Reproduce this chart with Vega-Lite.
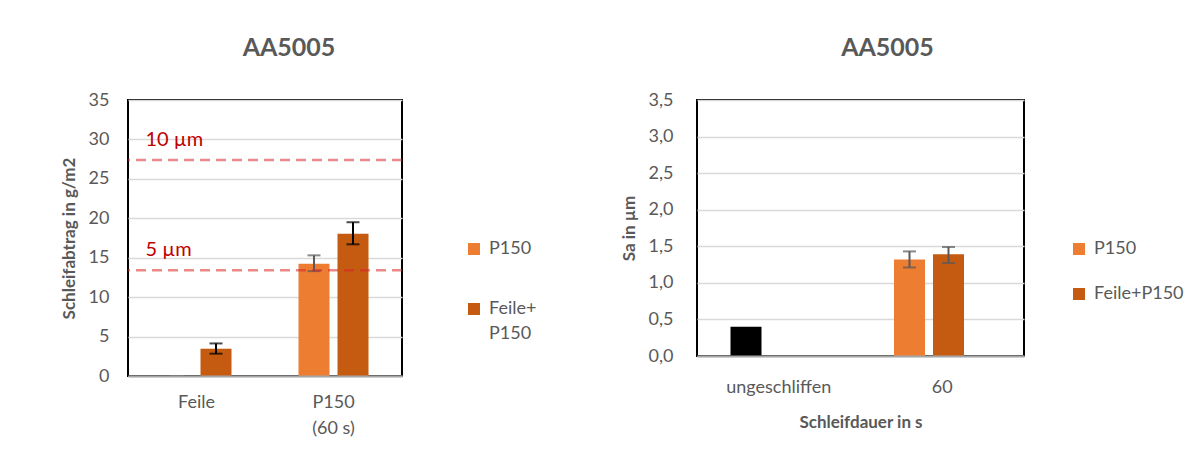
{
  "$schema": "https://vega.github.io/schema/vega-lite/v6.json",
  "background": "white",
  "padding": {"left": 59, "top": 35, "right": 0, "bottom": 0},
  "config": {
    "font": "Lato",
    "view": {"stroke": "#000000", "strokeWidth": 2},
    "axis": {"labelColor": "#595959", "titleColor": "#595959", "labelFontSize": 18, "titleFontSize": 17, "titleFontWeight": "bold", "ticks": false, "gridColor": "#D9D9D9", "gridWidth": 1.5, "labelFont": "Lato", "titleFont": "Lato", "labelOverlap": false},
    "legend": {"orient": "none", "title": null, "symbolType": "square", "symbolSize": 144, "symbolStrokeWidth": 0, "labelFontSize": 18, "labelColor": "#595959", "labelOffset": 6, "padding": 0, "labelFont": "Lato"},
    "title": {"fontSize": 25, "color": "#595959", "fontWeight": "bold", "anchor": "middle", "frame": "group", "font": "Lato"},
    "concat": {"spacing": 81}
  },
  "resolve": {"scale": {"color": "independent"}, "legend": {"color": "independent"}},
  "hconcat": [
    {
      "width": 274,
      "height": 276,
      "title": {"text": "AA5005", "dx": 24, "offset": 30},
      "data": {"values": [
        {"cat": "Feile", "series": "P150", "value": 0, "lo": 0, "hi": 0},
        {"cat": "Feile", "series": "Feile+P150", "value": 3.46, "lo": 2.83, "hi": 4.13},
        {"cat": "P150 (60 s)", "series": "P150", "value": 14.24, "lo": 13.3, "hi": 15.3},
        {"cat": "P150 (60 s)", "series": "Feile+P150", "value": 18.05, "lo": 16.7, "hi": 19.5}
      ]},
      "layer": [
        {
          "mark": {"type": "bar"},
          "encoding": {
            "x": {"field": "cat", "type": "nominal", "sort": ["Feile", "P150 (60 s)"], "scale": {"paddingInner": 0, "paddingOuter": 0}, "axis": {"title": null, "labelAngle": 0, "labelPadding": 17, "labelLineHeight": 26, "labelExpr": "datum.label == 'P150 (60 s)' ? ['P150', '(60 s)'] : datum.label", "domainColor": "#A6A6A6", "domainWidth": 2, "zindex": 1}},
            "xOffset": {"field": "series", "type": "nominal", "sort": ["P150", "Feile+P150"], "scale": {"paddingInner": 0.205, "paddingOuter": 0.859}},
            "y": {"field": "value", "type": "quantitative", "scale": {"domain": [0, 35], "nice": false}, "axis": {"title": "Schleifabtrag in g/m2", "values": [0, 5, 10, 15, 20, 25, 30, 35], "labelOverlap": false, "labelPadding": 19, "titlePadding": 10, "domain": false}},
            "color": {"field": "series", "type": "nominal", "scale": {"domain": ["P150", "Feile+P150"], "range": ["#ED7D31", "#C55A11"]}, "legend": {"legendX": 337, "legendY": 140, "rowPadding": 42, "labelExpr": "datum.label == 'Feile+P150' ? ['Feile+', 'P150'] : datum.label", "encode": {"labels": {"update": {"lineHeight": {"value": 25}}}}}}
          }
        },
        {
          "mark": {"type": "rule", "strokeWidth": 2},
          "encoding": {
            "x": {"field": "cat", "type": "nominal", "sort": ["Feile", "P150 (60 s)"]},
            "xOffset": {"field": "series", "type": "nominal", "sort": ["P150", "Feile+P150"]},
            "y": {"field": "lo", "type": "quantitative", "axis": {"title": "Schleifabtrag in g/m2", "values": [0, 5, 10, 15, 20, 25, 30, 35], "labelOverlap": false, "labelPadding": 19, "titlePadding": 10, "domain": false}},
            "y2": {"field": "hi"},
            "color": {"condition": {"test": "datum.series === 'P150'", "value": "#595959"}, "value": "#000000"}
          }
        },
        {
          "mark": {"type": "tick", "thickness": 2, "size": 13},
          "encoding": {
            "x": {"field": "cat", "type": "nominal", "sort": ["Feile", "P150 (60 s)"]},
            "xOffset": {"field": "series", "type": "nominal", "sort": ["P150", "Feile+P150"]},
            "y": {"field": "lo", "type": "quantitative", "axis": {"title": "Schleifabtrag in g/m2", "values": [0, 5, 10, 15, 20, 25, 30, 35], "labelOverlap": false, "labelPadding": 19, "titlePadding": 10, "domain": false}},
            "color": {"condition": {"test": "datum.series === 'P150'", "value": "#595959"}, "value": "#000000"}
          }
        },
        {
          "mark": {"type": "tick", "thickness": 2, "size": 13},
          "encoding": {
            "x": {"field": "cat", "type": "nominal", "sort": ["Feile", "P150 (60 s)"]},
            "xOffset": {"field": "series", "type": "nominal", "sort": ["P150", "Feile+P150"]},
            "y": {"field": "hi", "type": "quantitative", "axis": {"title": "Schleifabtrag in g/m2", "values": [0, 5, 10, 15, 20, 25, 30, 35], "labelOverlap": false, "labelPadding": 19, "titlePadding": 10, "domain": false}},
            "color": {"condition": {"test": "datum.series === 'P150'", "value": "#595959"}, "value": "#000000"}
          }
        },
        {
          "data": {"values": [
            {"label": "10 µm", "value": 27.4},
            {"label": "5 µm", "value": 13.4}
          ]},
          "layer": [
            {
              "mark": {"type": "rule", "strokeDash": [10, 6], "strokeWidth": 2.5, "color": "#D9262A", "opacity": 0.55},
              "encoding": {"y": {"field": "value", "type": "quantitative", "axis": {"title": "Schleifabtrag in g/m2", "values": [0, 5, 10, 15, 20, 25, 30, 35], "labelOverlap": false, "labelPadding": 19, "titlePadding": 10, "domain": false}}}
            },
            {
              "mark": {"type": "text", "align": "left", "baseline": "middle", "fontSize": 20, "color": "#C00000", "dx": -51, "font": "Lato"},
              "encoding": {
                "x": {"datum": "Feile", "type": "nominal"},
                "y": {"field": "value", "type": "quantitative", "axis": {"title": "Schleifabtrag in g/m2", "values": [0, 5, 10, 15, 20, 25, 30, 35], "labelOverlap": false, "labelPadding": 19, "titlePadding": 10, "domain": false}},
                "yOffset": {"condition": {"test": "datum.label === '5 µm'", "value": -25}, "value": -20},
                "text": {"field": "label"}
              }
            }
          ]
        }
      ]
    },
    {
      "width": 327,
      "height": 256,
      "title": {"text": "AA5005", "dx": 27, "offset": 30},
      "data": {"values": [
        {"cat": "ungeschliffen", "series": "P150", "value": 0.40, "lo": null, "hi": null},
        {"cat": "60", "series": "P150", "value": 1.32, "lo": 1.21, "hi": 1.43},
        {"cat": "60", "series": "Feile+P150", "value": 1.39, "lo": 1.27, "hi": 1.49}
      ]},
      "layer": [
        {
          "mark": {"type": "bar"},
          "encoding": {
            "x": {"field": "cat", "type": "nominal", "sort": ["ungeschliffen", "60"], "scale": {"paddingInner": 0, "paddingOuter": 0}, "axis": {"title": "Schleifdauer in s", "labelAngle": 0, "labelPadding": 22, "titlePadding": 18, "domainColor": "#A6A6A6", "domainWidth": 2, "zindex": 1}},
            "xOffset": {"field": "series", "type": "nominal", "sort": ["P150", "Feile+P150"], "scale": {"paddingInner": 0.213, "paddingOuter": 0.846}},
            "y": {"field": "value", "type": "quantitative", "scale": {"domain": [0, 3.5], "nice": false}, "axis": {"title": "Sa in µm", "values": [0, 0.5, 1, 1.5, 2, 2.5, 3, 3.5], "labelOverlap": false, "format": ".1f", "labelExpr": "replace(datum.label, '.', ',')", "labelPadding": 24, "titlePadding": 10, "domain": false}},
            "color": {"condition": {"test": "datum.cat === 'ungeschliffen'", "value": "#000000"}, "field": "series", "type": "nominal", "scale": {"domain": ["P150", "Feile+P150"], "range": ["#ED7D31", "#C55A11"]}, "legend": {"legendX": 373, "legendY": 140, "rowPadding": 27}}
          }
        },
        {
          "transform": [{"filter": "isValid(datum.lo)"}],
          "layer": [
            {
              "mark": {"type": "rule", "strokeWidth": 2, "color": "#595959"},
              "encoding": {
                "x": {"field": "cat", "type": "nominal", "sort": ["ungeschliffen", "60"]},
                "xOffset": {"field": "series", "type": "nominal", "sort": ["P150", "Feile+P150"]},
                "y": {"field": "lo", "type": "quantitative", "axis": {"title": "Sa in µm", "values": [0, 0.5, 1, 1.5, 2, 2.5, 3, 3.5], "labelOverlap": false, "format": ".1f", "labelExpr": "replace(datum.label, '.', ',')", "labelPadding": 24, "titlePadding": 10, "domain": false}},
                "y2": {"field": "hi"}
              }
            },
            {
              "mark": {"type": "tick", "thickness": 2, "size": 13, "color": "#595959"},
              "encoding": {
                "x": {"field": "cat", "type": "nominal", "sort": ["ungeschliffen", "60"]},
                "xOffset": {"field": "series", "type": "nominal", "sort": ["P150", "Feile+P150"]},
                "y": {"field": "lo", "type": "quantitative", "axis": {"title": "Sa in µm", "values": [0, 0.5, 1, 1.5, 2, 2.5, 3, 3.5], "labelOverlap": false, "format": ".1f", "labelExpr": "replace(datum.label, '.', ',')", "labelPadding": 24, "titlePadding": 10, "domain": false}}
              }
            },
            {
              "mark": {"type": "tick", "thickness": 2, "size": 13, "color": "#595959"},
              "encoding": {
                "x": {"field": "cat", "type": "nominal", "sort": ["ungeschliffen", "60"]},
                "xOffset": {"field": "series", "type": "nominal", "sort": ["P150", "Feile+P150"]},
                "y": {"field": "hi", "type": "quantitative", "axis": {"title": "Sa in µm", "values": [0, 0.5, 1, 1.5, 2, 2.5, 3, 3.5], "labelOverlap": false, "format": ".1f", "labelExpr": "replace(datum.label, '.', ',')", "labelPadding": 24, "titlePadding": 10, "domain": false}}
              }
            }
          ]
        }
      ]
    }
  ]
}
